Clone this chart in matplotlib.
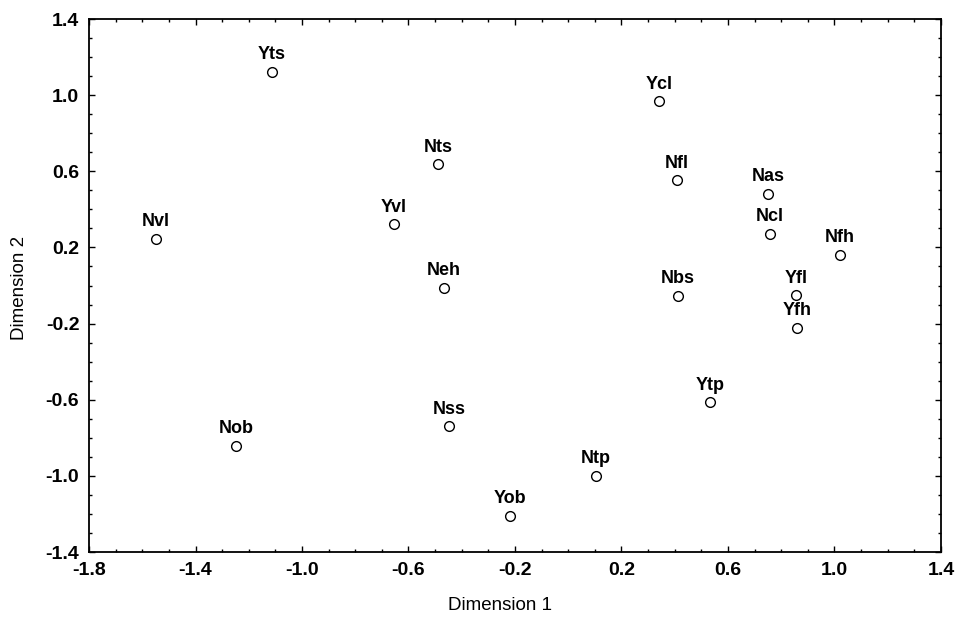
import numpy as np
import matplotlib
matplotlib.use('Agg')
import matplotlib.pyplot as plt
from matplotlib.ticker import MultipleLocator

plt.rcParams['font.family'] = ['Liberation Sans', 'DejaVu Sans']

labels = ['Yts', 'Ycl', 'Nts', 'Nfl', 'Nas', 'Yvl', 'Nvl', 'Ncl', 'Nfh', 'Neh',
          'Nbs', 'Yfl', 'Yfh', 'Ytp', 'Nob', 'Nss', 'Ntp', 'Yob']
dim1 = [-1.113, 0.341, -0.489, 0.408, 0.750, -0.654, -1.548, 0.758, 1.021, -0.467,
        0.412, 0.855, 0.859, 0.532, -1.248, -0.448, 0.104, -0.219]
dim2 = [1.122, 0.969, 0.638, 0.554, 0.481, 0.323, 0.245, 0.271, 0.161, -0.013,
        -0.055, -0.050, -0.223, -0.612, -0.843, -0.738, -1.000, -1.210]

fig = plt.figure(figsize=(9.56, 6.17), dpi=100)
ax = fig.add_axes([0.0931, 0.1053, 0.8912, 0.8639])

ax.plot(dim1, dim2, 'o', ms=7, mfc='white', mec='black', mew=1.0, ls='none')
for lab, x, y in zip(labels, dim1, dim2):
    ax.annotate(lab, (x, y), xytext=(0, 9), textcoords='offset points',
                ha='center', va='baseline', fontsize=13, fontweight='bold')

ax.set_xlim(-1.8, 1.4)
ax.set_ylim(-1.4, 1.4)
ax.xaxis.set_minor_locator(MultipleLocator(0.1))
ax.yaxis.set_minor_locator(MultipleLocator(0.1))
ax.set_xticks(np.arange(-1.8, 1.41, 0.4))
ax.set_yticks(np.arange(-1.4, 1.41, 0.4))
ax.set_xticklabels([f'{v:.1f}' for v in np.arange(-1.8, 1.41, 0.4)])
ax.set_yticklabels([f'{v:.1f}' for v in np.arange(-1.4, 1.41, 0.4)])
ax.tick_params(which='both', direction='in', top=True, right=True, width=1)
ax.tick_params(which='major', length=4, labelsize=14, pad=7)
ax.tick_params(which='minor', length=2)
for t in ax.get_xticklabels() + ax.get_yticklabels():
    t.set_fontweight('bold')
for s in ax.spines.values():
    s.set_linewidth(1.3)

ax.set_xlabel('Dimension 1', fontsize=13.5)
ax.set_ylabel('Dimension 2', fontsize=13.5)
ax.xaxis.set_label_coords(0.482, -0.085)
ax.yaxis.set_label_coords(-0.072, 0.495)

fig.savefig('out.png', dpi=100)
